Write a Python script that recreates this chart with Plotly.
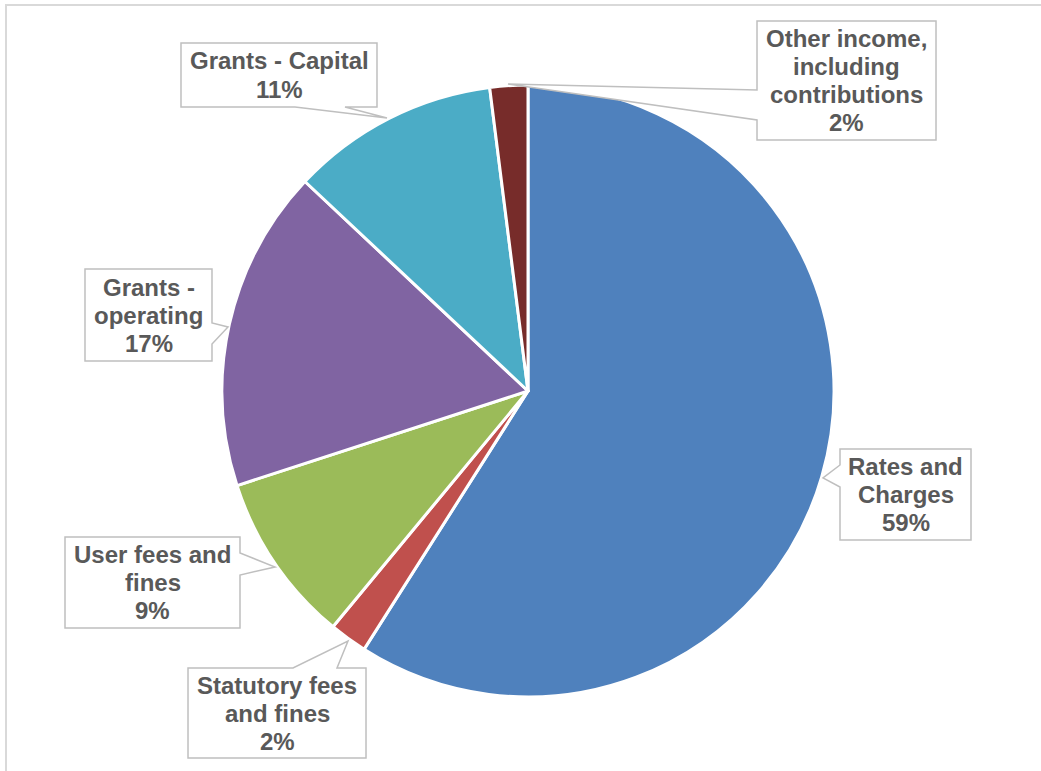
import plotly.graph_objects as go

# ---- data ----
categories = ["Rates and Charges", "Statutory fees and fines", "User fees and fines",
              "Grants - operating", "Grants - Capital", "Other income, including contributions"]
values = [59, 2, 9, 17, 11, 2]
colors = ["#4F81BD", "#C0504D", "#9BBB59", "#8064A2", "#4BACC6", "#772C2A"]
label_lines = [
    ["Rates and", "Charges"],
    ["Statutory fees", "and fines"],
    ["User fees and", "fines"],
    ["Grants -", "operating"],
    ["Grants - Capital"],
    ["Other income,", "including", "contributions"],
]

W, H = 1041, 771
def px(x):
    return x / W
def py(y):
    return 1 - y / H

# pie geometry (pixels)
cx, cy, r = 528, 391, 306

fig = go.Figure()
fig.add_trace(go.Pie(
    labels=categories, values=values, sort=False, direction="clockwise", rotation=0,
    marker=dict(colors=colors, line=dict(color="white", width=3)),
    textinfo="none", hoverinfo="label+percent", showlegend=False,
    domain=dict(x=[px(cx - r), px(cx + r)], y=[py(cy + r), py(cy - r)]),
))

# callout boxes: (box x0, y0, x1, y1), polygon of callout outline
callouts = [
    ((840, 449, 971, 540), [(840, 449), (971, 449), (971, 540), (840, 540), (840, 487), (823, 478), (840, 465)]),
    ((188, 668, 366, 758), [(188, 668), (293, 668), (348, 641), (337, 668), (366, 668), (366, 758), (188, 758)]),
    ((65, 537, 240, 628), [(65, 537), (240, 537), (240, 553), (275, 567), (240, 575), (240, 628), (65, 628)]),
    ((85, 269, 212, 361), [(85, 269), (212, 269), (212, 323), (228, 327), (212, 344), (212, 361), (85, 361)]),
    ((181, 43, 377, 107), [(181, 43), (377, 43), (377, 107), (345, 107), (387, 118), (295, 107), (181, 107)]),
    ((757, 21, 936, 140), [(757, 21), (936, 21), (936, 140), (757, 140), (757, 120), (508, 84), (757, 90)]),
]

shapes = [
    dict(type="rect", xref="paper", yref="paper", x0=px(6), y0=py(5), x1=px(1046), y1=py(776),
         line=dict(color="#D9D9D9", width=2), fillcolor="rgba(0,0,0,0)", layer="below"),
]
annotations = []
line_h = 28
for i, ((x0, y0, x1, y1), poly) in enumerate(callouts):
    path = "M " + " L ".join(f"{px(x):.5f},{py(y):.5f}" for x, y in poly) + " Z"
    shapes.append(dict(type="path", xref="paper", yref="paper", path=path,
                       fillcolor="white", line=dict(color="#BFBFBF", width=1.5), layer="above"))
    lines = label_lines[i] + [f"{round(values[i] / sum(values) * 100)}%"]
    n = len(lines)
    mx, my = (x0 + x1) / 2, (y0 + y1) / 2
    for j, t in enumerate(lines):
        yy = my + (j - (n - 1) / 2) * line_h
        annotations.append(dict(x=px(mx), y=py(yy), xref="paper", yref="paper", text=f"<b>{t}</b>",
                                showarrow=False, xanchor="center", yanchor="middle",
                                font=dict(family="Liberation Sans, Arial", size=24, color="#595959")))

fig.update_layout(
    width=W, height=H, margin=dict(l=0, r=0, t=0, b=0),
    paper_bgcolor="white", plot_bgcolor="white",
    shapes=shapes, annotations=annotations,
)
fig.write_html("out.html")
